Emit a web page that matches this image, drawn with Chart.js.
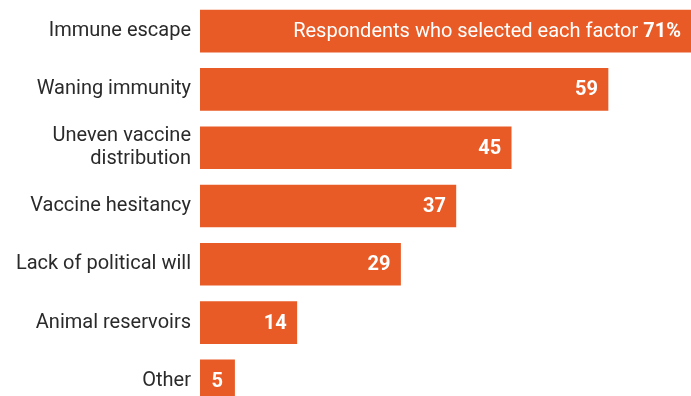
<!DOCTYPE html>
<html>
<head>
<meta charset="utf-8">
<script src="https://cdn.jsdelivr.net/npm/chart.js@4"></script>
<style>
  html, body { margin: 0; padding: 0; background: #fff; overflow: hidden; }
  #wrap { width: 691px; height: 410px; position: relative; }
</style>
</head>
<body>
<div id="wrap"><canvas id="chart"></canvas></div>
<script>
// Data
const categories = [
    'Immune escape',
    'Waning immunity',
    ['Uneven vaccine', 'distribution'],
    'Vaccine hesitancy',
    'Lack of political will',
    'Animal reservoirs',
    'Other'
];
const values = [71, 59, 45, 37, 29, 14, 5];
const firstBarNote = 'Respondents who selected each factor ';

const barColor = '#E95B26';
const fontFamily = 'Roboto, "Noto Sans", sans-serif';

// Value labels drawn inside the end of each bar
const valueLabels = {
    id: 'valueLabels',
    afterDatasetsDraw(chart) {
        const ctx = chart.ctx;
        const meta = chart.getDatasetMeta(0);
        ctx.save();
        ctx.fillStyle = '#fff';
        ctx.textBaseline = 'middle';
        ctx.textAlign = 'right';
        meta.data.forEach((bar, i) => {
            const v = values[i];
            const y = bar.y + 1;
            ctx.font = 'bold 20px ' + fontFamily;
            if (i === 0) {
                const xEnd = bar.x - 10;
                const txt = v + '%';
                ctx.fillText(txt, xEnd, y);
                const w = ctx.measureText(txt).width;
                ctx.font = '20px ' + fontFamily;
                ctx.fillText(firstBarNote, xEnd - w, y);
            } else if (v < 8) {
                ctx.textAlign = 'center';
                ctx.fillText(String(v), (bar.x + bar.base) / 2, y);
                ctx.textAlign = 'right';
            } else {
                ctx.fillText(String(v), bar.x - 10, y);
            }
        });
        ctx.restore();
    }
};

const ctx = document.getElementById('chart').getContext('2d');
new Chart(ctx, {
    type: 'bar',
    data: {
        labels: categories,
        datasets: [{
            data: values,
            backgroundColor: barColor,
            borderWidth: 0,
            barThickness: 42
        }]
    },
    options: {
        indexAxis: 'y',
        responsive: true,
        maintainAspectRatio: false,
        animation: false,
        layout: { padding: { top: 2, left: 0, right: 0, bottom: 0 } },
        plugins: {
            legend: { display: false },
            tooltip: { enabled: false }
        },
        scales: {
            x: {
                display: false,
                min: 0,
                max: 71,
                grid: { display: false }
            },
            y: {
                afterFit(scale) {
                    scale.width = 200;
                    scale.paddingTop = 0;
                    scale.paddingBottom = 0;
                },
                grid: { display: false, drawTicks: false },
                border: { display: false },
                ticks: {
                    padding: 9,
                    color: '#2a2a2a',
                    font: { family: fontFamily, size: 20, lineHeight: 1.15 },
                    autoSkip: false
                }
            }
        }
    },
    plugins: [valueLabels]
});
</script>
</body>
</html>
